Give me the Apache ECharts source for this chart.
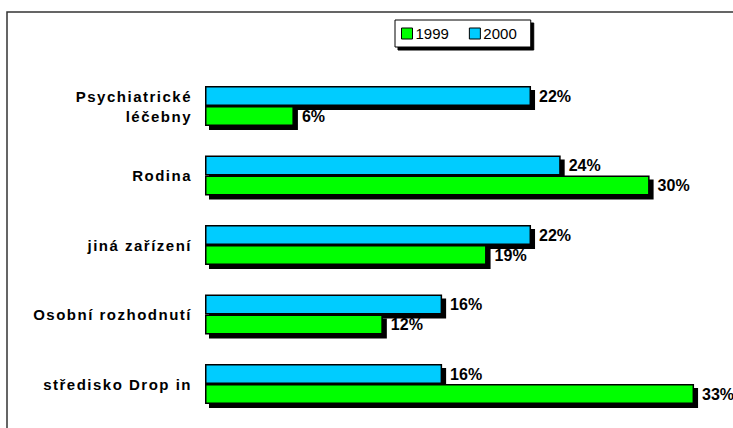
<!DOCTYPE html>
<html><head><meta charset="utf-8">
<script src="https://cdn.jsdelivr.net/npm/echarts@6/dist/echarts.min.js"></script>
<style>html,body{margin:0;padding:0;background:#fff}#c{width:733px;height:428px}</style>
</head><body><div id="c"></div>
<script>
const categories = ['Psychiatrické\nléčebny', 'Rodina', 'jiná zařízení', 'Osobní rozhodnutí', 'středisko Drop in'];
const values1999 = [6, 30, 19, 12, 33];
const values2000 = [22, 24, 22, 16, 16];
const seriesNames = ['1999', '2000'];

const BAR_H = 20, SH = 4;
const font = 'Liberation Sans, Arial, sans-serif';
const chart = echarts.init(document.getElementById('c'), null, { renderer: 'svg' });

// shadow rows built from the value arrays: [categoryIndex, value, slot]
const shadowRows = [];
values2000.forEach((v, i) => shadowRows.push([i, v, 0]));
values1999.forEach((v, i) => shadowRows.push([i, v, 1]));

const lbl = {
  show: true, position: 'right', distance: 8, formatter: '{c}%',
  color: '#000', fontFamily: font, fontWeight: 'bold', fontSize: 16
};
const barStyle = (c) => ({ color: c, borderColor: '#000', borderWidth: 1.5 });

chart.setOption({
  animation: false,
  graphic: [{
    type: 'rect', shape: { x: 7, y: 12, width: 760, height: 440 },
    style: { fill: 'none', stroke: '#333', lineWidth: 1.5 }, z: 0
  }],
  legend: {
    data: seriesNames, left: 395, top: 20,
    padding: [6, 14, 6, 6], itemGap: 20, itemWidth: 11, itemHeight: 11, icon: 'rect',
    backgroundColor: '#fff', borderColor: '#000', borderWidth: 1,
    shadowColor: '#000', shadowOffsetX: 3, shadowOffsetY: 3, shadowBlur: 0,
    itemStyle: { borderColor: '#000', borderWidth: 1 },
    textStyle: { fontFamily: font, fontSize: 15, color: '#000', padding: [0, 0, 0, -2] }
  },
  grid: { left: 205, top: 71.25, width: 518.7, height: 347.5 },
  xAxis: { type: 'value', min: 0, max: 35, show: false },
  yAxis: {
    type: 'category', data: categories, inverse: true,
    axisLine: { show: false }, axisTick: { show: false }, splitLine: { show: false },
    axisLabel: { margin: 13, color: '#000', fontFamily: font, fontWeight: 'bold', fontSize: 15, lineHeight: 20 }
  },
  series: [
    { name: '2000', type: 'bar', data: values2000, barWidth: BAR_H, barGap: '0%', z: 3,
      itemStyle: barStyle('#00CCFF'), label: lbl },
    { name: '1999', type: 'bar', data: values1999, barWidth: BAR_H, barGap: '0%', z: 3,
      itemStyle: barStyle('#00FF00'), label: lbl },
    { name: 'shadow', type: 'custom', z: 2, silent: true, data: shadowRows,
      encode: { x: 1, y: 0 },
      renderItem: function (params, api) {
        const c0 = api.coord([0, api.value(0)]);
        const c1 = api.coord([api.value(1), api.value(0)]);
        const top = c0[1] + (api.value(2) === 0 ? -BAR_H : 0);
        return { type: 'rect',
          shape: { x: c0[0] + SH, y: top + SH, width: c1[0] - c0[0], height: BAR_H },
          style: { fill: '#000' } };
      }
    }
  ]
});

// wider letter spacing for category labels (as in the reference)
const lines = [];
categories.forEach(c => c.split('\n').forEach(s => lines.push(s)));
document.querySelectorAll('#c svg text').forEach(t => {
  if (lines.indexOf(t.textContent.trim()) >= 0) t.setAttribute('letter-spacing', '1.5');
});
</script></body></html>
